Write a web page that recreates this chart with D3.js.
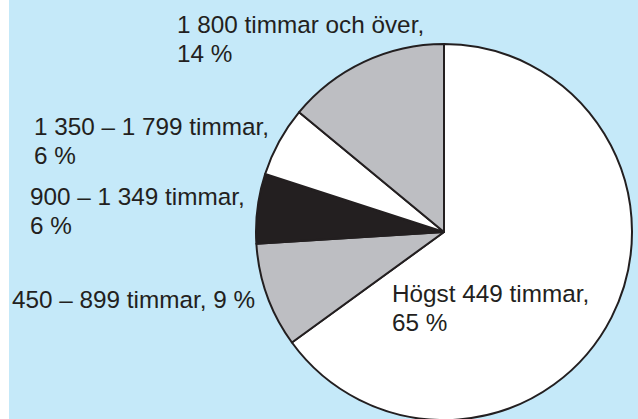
<!DOCTYPE html>
<html>
<head>
<meta charset="utf-8">
<script src="https://cdn.jsdelivr.net/npm/d3@7"></script>
<style>
  body { margin: 0; background: #fff; }
  svg { display: block; }
</style>
</head>
<body>
<div id="chart"></div>
<script>
// data
var categories = ["Högst 449 timmar", "450 – 899 timmar", "900 – 1 349 timmar", "1 350 – 1 799 timmar", "1 800 timmar och över"];
var shares = [65, 9, 6, 6, 14];
var labelLines = [
  ["Högst 449 timmar,", "65 %"],
  ["450 – 899 timmar, 9 %"],
  ["900 – 1 349 timmar,", "6 %"],
  ["1 350 – 1 799 timmar,", "6 %"],
  ["1 800 timmar och över,", "14 %"]
];

var width = 638, height = 419;
var cx = 444, cy = 232, radius = 188;

// label anchor points (left x, first baseline)
var labelPos = [[392, 302], [12, 308], [30, 205], [34, 135], [177, 33]];

var fillColor = d3.scaleOrdinal()
  .domain(categories)
  .range(["#ffffff", "#bdbec2", "#231f20", "#ffffff", "#bdbec2"]);

var svg = d3.select("#chart").append("svg")
  .attr("width", width)
  .attr("height", height);

svg.append("rect")
  .attr("x", 9)
  .attr("y", 0)
  .attr("width", width - 9)
  .attr("height", height)
  .attr("fill", "#c5e9f9");

var pie = d3.pie()
  .value(function(d) { return d; })
  .sort(null);

var arc = d3.arc()
  .innerRadius(0)
  .outerRadius(radius);

var g = svg.append("g")
  .attr("transform", "translate(" + cx + "," + cy + ")");

g.selectAll("path")
  .data(pie(shares))
  .enter()
  .append("path")
    .attr("d", arc)
    .attr("fill", function(d, i) { return fillColor(categories[i]); })
    .attr("stroke", "#231f20")
    .attr("stroke-width", 2)
    .attr("stroke-linejoin", "round");

var labels = svg.selectAll(".lbl")
  .data(labelLines)
  .enter()
  .append("text")
    .attr("class", "lbl")
    .attr("x", function(d, i) { return labelPos[i][0]; })
    .attr("y", function(d, i) { return labelPos[i][1]; })
    .style("font-family", "'Liberation Sans', Arial, Helvetica, sans-serif")
    .style("font-size", "24.3px")
    .style("fill", "#231f20");

labels.selectAll("tspan")
  .data(function(d, i) { return d.map(function(t) { return {t: t, x: labelPos[i][0]}; }); })
  .enter()
  .append("tspan")
    .attr("x", function(d) { return d.x; })
    .attr("dy", function(d, j) { return j === 0 ? 0 : 28.5; })
    .text(function(d) { return d.t; });
</script>
</body>
</html>
